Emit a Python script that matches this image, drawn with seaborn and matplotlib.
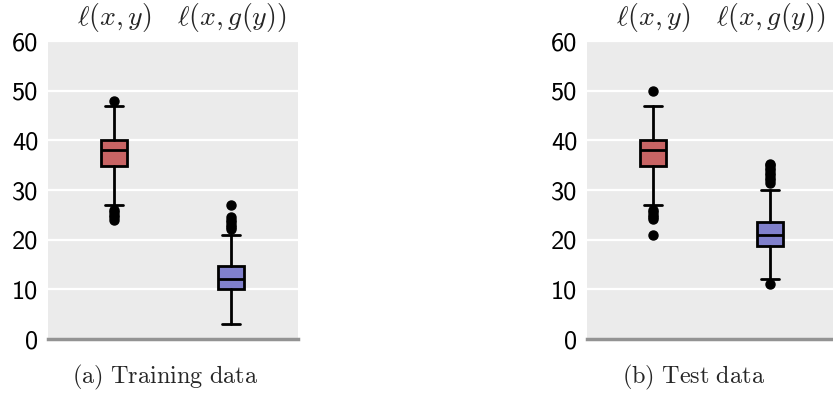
import os
import matplotlib
matplotlib.use("Agg")
import matplotlib.pyplot as plt
from matplotlib.font_manager import FontProperties
import seaborn as sns

# Loss labels shown above each box
categories = [r"$\ell(x,y)$", r"$\ell(x,g(y))$"]
captions = [r"$\mathrm{(a)\ Training\ data}$", r"$\mathrm{(b)\ Test\ data}$"]
box_colors = ["#C86464", "#8080CC"]
yticks = [0, 10, 20, 30, 40, 50, 60]

# Training data summary: [l(x,y), l(x,g(y))]
train_q1 = [34.8, 10.0]
train_med = [38.0, 12.0]
train_q3 = [40.0, 14.8]
train_whislo = [27.0, 3.0]
train_whishi = [47.0, 21.0]
train_fliers_xy = [48.0, 26.0, 25.5, 25.0, 24.5, 24.0]
train_fliers_xgy = [27.0, 24.5, 24.0, 23.5, 23.0, 22.5, 22.2]

# Test data summary: [l(x,y), l(x,g(y))]
test_q1 = [34.8, 18.7]
test_med = [38.0, 21.0]
test_q3 = [40.0, 23.6]
test_whislo = [27.0, 12.0]
test_whishi = [47.0, 30.0]
test_fliers_xy = [50.0, 26.0, 25.5, 25.0, 24.5, 24.2, 21.0]
test_fliers_xgy = [35.3, 35.0, 34.5, 34.0, 33.5, 33.0, 32.5, 32.0, 31.5, 11.0]

sns.set_theme(style="darkgrid", rc={
    "axes.facecolor": "#EBEBEB",
    "grid.color": "white",
    "grid.linewidth": 1.6,
    "mathtext.fontset": "cm",
})

# Computer Modern Sans for the value axis, shipped with matplotlib
cmss_path = os.path.join(matplotlib.get_data_path(), "fonts", "ttf", "cmss10.ttf")
tick_font = FontProperties(fname=cmss_path, size=19)


def make_stats(q1, med, q3, lo, hi, fliers_list):
    return [
        dict(q1=q1[i], med=med[i], q3=q3[i], whislo=lo[i], whishi=hi[i],
             fliers=fliers_list[i], label=categories[i])
        for i in range(len(categories))
    ]


panels = [
    make_stats(train_q1, train_med, train_q3, train_whislo, train_whishi,
               [train_fliers_xy, train_fliers_xgy]),
    make_stats(test_q1, test_med, test_q3, test_whislo, test_whishi,
               [test_fliers_xy, test_fliers_xgy]),
]

fig = plt.figure(figsize=(8.33, 3.93), dpi=100)
positions = [[0.0576, 0.1374, 0.300, 0.758], [0.7047, 0.1374, 0.300, 0.758]]
caption_x = [165 / 833, 694 / 833]

for k, stats in enumerate(panels):
    ax = fig.add_axes(positions[k])
    arts = ax.bxp(
        stats, positions=[0, 1], widths=0.22, capwidths=0.15,
        patch_artist=True, showfliers=True,
        boxprops=dict(linewidth=2.0, edgecolor="black"),
        medianprops=dict(color="black", linewidth=2.0),
        whiskerprops=dict(color="black", linewidth=2.0),
        capprops=dict(color="black", linewidth=2.0),
        flierprops=dict(marker="o", markerfacecolor="black",
                        markeredgecolor="black", markersize=6.5),
        zorder=3,
    )
    for patch, c in zip(arts["boxes"], box_colors):
        patch.set_facecolor(c)

    ax.set_xlim(-0.565, 1.57)
    ax.set_ylim(0, 60)
    ax.set_yticks(yticks)
    ax.set_yticklabels([str(v) for v in yticks])
    for lab in ax.get_yticklabels():
        lab.set_fontproperties(tick_font)
        lab.set_color("black")
    ax.xaxis.tick_top()
    ax.set_xticks([0, 1])
    ax.set_xticklabels(categories, fontsize=20)
    ax.tick_params(axis="both", length=0)
    ax.tick_params(axis="y", pad=7)
    ax.tick_params(axis="x", pad=5)
    ax.grid(axis="x", visible=False)
    ax.grid(axis="y", visible=True)
    for side in ["top", "left", "right"]:
        ax.spines[side].set_visible(False)
    ax.spines["bottom"].set_visible(True)
    ax.spines["bottom"].set_color("#939393")
    ax.spines["bottom"].set_linewidth(2.5)
    ax.spines["bottom"].set_zorder(4)

    fig.text(caption_x[k], 16 / 393, captions[k],
             ha="center", va="center", fontsize=17.5)

fig.savefig("out.png", dpi=100)
